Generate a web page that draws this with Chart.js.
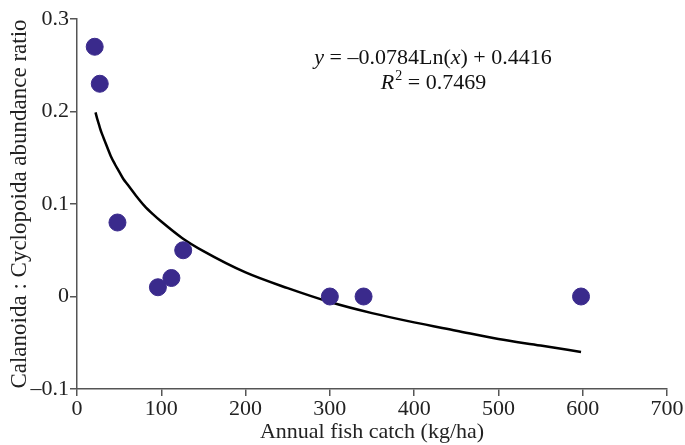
<!DOCTYPE html>
<html>
<head>
<meta charset="utf-8">
<script src="https://cdn.jsdelivr.net/npm/chart.js@4"></script>
<style>
  html, body { margin: 0; padding: 0; background: #fff; }
</style>
</head>
<body>
<canvas id="chart1" width="685" height="445"></canvas>
<script>
// observed points (kg/ha, ratio)
var catchX = [21, 27, 48, 96, 112, 126, 300, 340, 598];
var ratioY = [0.27, 0.23, 0.08, 0.01, 0.02, 0.05, 0, 0, 0];
// fitted log curve
var curveX = [22, 24, 26, 28, 30, 33, 36, 40, 45, 50, 55, 60, 70, 80, 90, 100, 125, 150, 200, 250, 300, 350, 400, 450, 500, 550, 598];
var curveY = [0.199, 0.192, 0.186, 0.180, 0.175, 0.168, 0.161, 0.152, 0.143, 0.135, 0.127, 0.121, 0.109, 0.098, 0.089, 0.081, 0.063, 0.049, 0.026, 0.009, -0.006, -0.018, -0.028, -0.037, -0.046, -0.053, -0.060];
// axis ticks
var xTicks = [0, 100, 200, 300, 400, 500, 600, 700];
var yTicks = [-0.1, 0, 0.1, 0.2, 0.3];

var serif = '"Liberation Serif", "Times New Roman", serif';
var axisGray = '#555555';
var fs = 22;

// draws the regression equation
var eqPlugin = {
  id: 'eq',
  afterDraw: function (chart) {
    var c = chart.ctx;
    var cx = 433, y1 = 58, y2 = 83;
    c.save();
    c.fillStyle = '#111';
    c.textBaseline = 'middle';
    var parts1 = [['italic', 'y'], ['normal', ' = \u20130.0784Ln('], ['italic', 'x'], ['normal', ') + 0.4416']];
    var w = 0;
    parts1.forEach(function (p) { c.font = p[0] + ' ' + fs + 'px ' + serif; w += c.measureText(p[1]).width; });
    var x = cx - w / 2;
    parts1.forEach(function (p) { c.font = p[0] + ' ' + fs + 'px ' + serif; c.fillText(p[1], x, y1); x += c.measureText(p[1]).width; });
    // line 2: R^2 = 0.7469
    c.font = 'italic ' + fs + 'px ' + serif; var wR = c.measureText('R').width;
    c.font = 'normal 14px ' + serif; var w2 = c.measureText('2').width;
    c.font = 'normal ' + fs + 'px ' + serif; var wr = c.measureText(' = 0.7469').width;
    x = cx - (wR + w2 + wr) / 2;
    c.font = 'italic ' + fs + 'px ' + serif; c.fillText('R', x, y2); x += wR + 1;
    c.font = 'normal 14px ' + serif; c.fillText('2', x, y2 - 7); x += w2;
    c.font = 'normal ' + fs + 'px ' + serif; c.fillText(' = 0.7469', x, y2);
    c.restore();
  }
};

var ctx1 = document.getElementById('chart1');
new Chart(ctx1, {
  data: {
    datasets: [{
      type: 'line',
      data: curveX.map(function (v, i) { return { x: v, y: curveY[i] }; }),
      borderColor: '#000',
      borderWidth: 2.5,
      pointRadius: 0,
      fill: false,
      cubicInterpolationMode: 'monotone',
      order: 2
    }, {
      type: 'scatter',
      data: catchX.map(function (v, i) { return { x: v, y: ratioY[i] }; }),
      backgroundColor: '#3a2a8c',
      borderColor: '#3a2a8c',
      pointRadius: 8.5,
      order: 1
    }]
  },
  options: {
    responsive: false,
    animation: false,
    layout: { padding: { left: 0, top: 19, right: 18, bottom: 0 } },
    plugins: { legend: { display: false }, tooltip: { enabled: false } },
    scales: {
      x: {
        type: 'linear',
        min: 0, max: 700,
        afterBuildTicks: function (s) { s.ticks = xTicks.map(function (v) { return { value: v }; }); },
        afterFit: function (s) { s.height = 56; },
        border: { display: true, color: axisGray, width: 1.5 },
        grid: { drawOnChartArea: false, drawTicks: true, tickLength: 7, color: axisGray, lineWidth: 1.5 },
        ticks: { color: '#222', font: { family: serif, size: fs }, padding: 0, maxRotation: 0 },
        title: { display: true, text: 'Annual fish catch (kg/ha)', color: '#222', font: { family: serif, size: fs }, padding: { top: 0, bottom: 0 } }
      },
      y: {
        type: 'linear',
        min: -0.1, max: 0.3,
        afterBuildTicks: function (s) { s.ticks = yTicks.map(function (v) { return { value: v }; }); },
        afterFit: function (s) { s.width = 77; },
        border: { display: true, color: axisGray, width: 1.5 },
        grid: { drawOnChartArea: false, drawTicks: true, tickLength: 7, color: axisGray, lineWidth: 1.5 },
        ticks: {
          color: '#222', font: { family: serif, size: fs }, padding: 1,
          callback: function (v) { return v === 0 ? '0' : (v < 0 ? '\u2013' + Math.abs(v).toFixed(1) : v.toFixed(1)); }
        },
        title: { display: true, text: 'Calanoida : Cyclopoida abundance ratio', color: '#222', font: { family: serif, size: 23 }, padding: { top: 6, bottom: 0 } }
      }
    }
  },
  plugins: [eqPlugin]
});
</script>
</body>
</html>
